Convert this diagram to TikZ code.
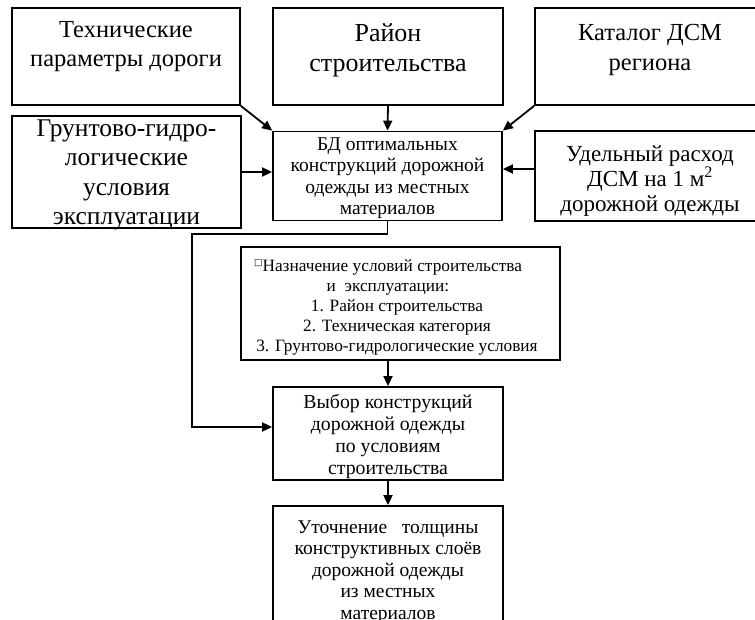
\documentclass[tikz,border=0pt]{standalone}
\usepackage{fontspec}
\setmainfont{Liberation Serif}
\newfontfamily\symfont{DejaVu Sans}
\usetikzlibrary{arrows.meta}
\begin{document}
\begin{tikzpicture}[x=1pt,y=-1pt,
  box/.style={draw, line width=1.8pt, inner sep=0pt},
  txt/.style={align=center, inner sep=0pt},
  arr/.style={line width=1.8pt, -{Triangle[length=10pt,width=9pt]}},
  ln/.style={line width=1.8pt}
]
\useasboundingbox (0,0) rectangle (755,620);
% top row
\node[box, minimum width=228pt, minimum height=97pt] (tp) at (126,56.5) {};
\node[txt, font=\fontsize{24.5}{29}\selectfont] (tpt) at (126,47) {Технические\\параметры дороги};
\node[box, minimum width=230pt, minimum height=97pt] (ra) at (388,56.5) {};
\node[txt, font=\fontsize{26}{30}\selectfont] (rat) at (388,50) {Район\\строительства};
\node[box, minimum width=230pt, minimum height=97pt] (ka) at (650,56.5) {};
\node[txt, font=\fontsize{24.5}{30}\selectfont] (kat) at (650,50) {Каталог ДСМ\\региона};
% middle row
\node[box, minimum width=229pt, minimum height=112pt] (gr) at (126.5,172) {};
\node[txt, font=\fontsize{25.5}{29.5}\selectfont] (grt) at (126.5,175) {Грунтово-гидро-\\логические\\условия\\эксплуатации};
\node[box, minimum width=229pt, minimum height=89pt] (bd) at (387.5,176) {};
\node[txt, font=\fontsize{19.5}{21.5}\selectfont] (bdt) at (387.5,178) {БД оптимальных\\конструкций дорожной\\одежды из местных\\материалов};
\node[box, minimum width=230pt, minimum height=90pt] (ud) at (650,176) {};
\node[txt, font=\fontsize{23}{25}\selectfont] (udt) at (650,181) {Удельный расход\\ДСМ на 1 м\textsuperscript{2}\\дорожной одежды};
% assignment box
\node[box, line width=2.4pt, minimum width=319pt, minimum height=113pt] (na) at (400.5,303.5) {};
\node[txt, font=\fontsize{17.3}{20}\selectfont] (nat) at (397,307) {\hspace*{-18pt}\raisebox{6pt}{\symfont\fontsize{9}{9}\selectfont □}Назначение условий строительства\\\hspace*{-18pt}и\ \ эксплуатации:\\1. Район строительства\\2. Техническая категория\\3. Грунтово-гидрологические условия};
% choice box
\node[box, minimum width=230pt, minimum height=93pt] (vy) at (388,433.5) {};
\node[txt, font=\fontsize{19.8}{22}\selectfont] (vyt) at (388,437) {Выбор конструкций\\дорожной одежды\\по условиям\\строительства};
% refinement box
\node[box, minimum width=230pt, minimum height=140pt] (ut) at (388,576) {};
\node[txt, font=\fontsize{19.5}{21.5}\selectfont] (utt) at (388,572) {Уточнение\ \ \ толщины\\конструктивных слоёв\\дорожной одежды\\из местных\\материалов};
% connectors
\draw[arr] (tp.south east) -- (bd.north west);
\draw[arr] (ra.south) -- (bd.north);
\draw[arr] (ka.south west) -- (bd.north east);
\draw[arr] (gr.east) -- (gr.east -| bd.west);
\draw[arr] ([yshift=7pt]ud.west) -- ([yshift=7pt]ud.west -| bd.east);
\coordinate (c1) at (192,234);
\coordinate (c2) at (192,427);
\draw[ln, -{Triangle[length=10pt,width=9pt]}] (bd.south) |- (c1) -- (c2) -- (c2 -| vy.west);
\draw[arr] (na.south -| vy.north) -- (vy.north);
\draw[arr] (vy.south) -- (ut.north);
\end{tikzpicture}
\end{document}
